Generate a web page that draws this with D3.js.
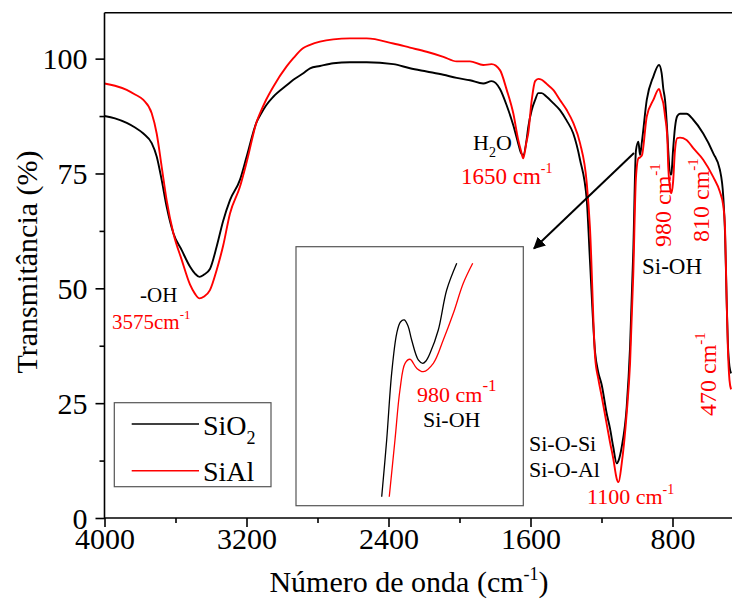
<!DOCTYPE html>
<html><head><meta charset="utf-8">
<script src="https://cdn.jsdelivr.net/npm/d3@7"></script>
<style>
html,body{margin:0;padding:0;background:#fff;}
svg{display:block;font-family:"Liberation Serif","Times New Roman",serif;}
</style></head>
<body>
<svg id="c" width="732" height="604"></svg>
<script>
// ---------- data ----------
const wavenumber = [4000,3941,3875,3828,3781,3734,3706,3678,3650,3612,3565,3518,3490,3465,3439,3406,3368,3332,3293,3237,3199,3143,3124,3090,3049,2974,2936,2880,2842,2786,2711,2617,2523,2373,2279,2185,2091,2016,1941,1866,1819,1772,1734,1697,1669,1654,1641,1622,1613,1593,1574,1556,1537,1509,1472,1434,1396,1359,1321,1283,1265,1236,1218,1199,1171,1152,1134,1114,1104,1086,1058,1039,1021,1006,992,983,972,945,908,876,861,852,842,829,824,810,806,797,786,773,758,721,683,627,570,533,514,504,495,488,479,470];
const sio2 = [87.5,87.0,86.0,85.0,83.7,81.6,78.7,73.6,67.8,62.0,58.3,54.7,53.2,52.5,53.0,54.2,59.1,64.6,69.2,73.6,78.7,86.2,87.6,89.8,91.7,94.2,95.4,96.8,97.9,98.4,99.0,99.2,99.2,98.8,97.9,97.2,96.5,95.8,95.3,94.6,95.1,93.4,89.8,85.5,81.5,79.5,79.0,82.3,85.0,88.8,91.0,92.5,92.5,91.7,90.3,88.8,86.5,83.7,78.0,69.2,56.0,36.0,31.7,29.0,22.8,19.5,15.5,11.9,12.5,15.5,24.2,37.3,58.0,80.0,81.9,79.0,82.0,91.0,96.1,98.6,96.8,93.5,91.0,83.7,80.0,74.7,75.0,80.0,85.0,87.5,88.0,88.0,86.7,83.7,79.4,75.8,70.0,62.0,47.5,38.0,33.0,31.5];
const sial = [94.6,94.1,93.2,92.2,91.0,88.1,83.7,76.5,69.2,62.0,56.2,50.8,48.8,47.8,48.2,49.6,54.0,59.2,66.3,72.1,77.5,86.2,88.1,91.0,93.9,98.3,100.1,102.3,103.0,103.7,104.2,104.4,104.4,103.3,102.4,101.5,100.4,99.4,99.4,98.6,98.8,97.5,93.2,88.1,82.3,80.0,78.3,82.0,83.7,91.0,95.1,95.6,95.4,94.5,93.2,91.0,88.8,86.0,81.6,72.9,63.2,35.0,30.3,26.5,20.5,16.5,13.0,8.5,7.8,11.9,22.8,33.7,53.0,74.0,78.3,78.5,79.0,87.4,91.0,93.4,91.5,90.3,87.5,82.5,76.5,71.0,70.7,73.0,80.1,82.7,82.8,82.3,80.5,78.0,74.2,71.0,68.0,63.0,47.5,37.0,30.0,28.0];
const seriesNames = ["SiO\u2082","SiAl"];
const xTicks = [4000,3200,2400,1600,800];
const xMinorTicks = [3600,2800,2000,1200,400];
const yTicks = [0,25,50,75,100];
const yMinorTicks = [12.5,37.5,62.5,87.5];
// inset (magnified 980 cm-1 region)
const insetWnSiO2 = [1017.3,1012.5,1007.7,1002.8,999.2,995.5,991.9,988.4,982.0,977.7,974.6,970.7,962.7,954.6,944.9];
const insetTSiO2  = [60.96,67.53,75.25,79.89,81.2,81.43,80.73,79.11,76.8,76.41,76.68,77.57,80.27,84.9,88.0];
const insetWnSiAl = [1010.0,1004.5,999.7,994.8,990.0,983.5,977.2,967.5,957.9,948.2,938.6,929.5];
const insetTSiAl  = [60.96,67.53,73.32,76.41,76.88,75.83,75.44,76.41,79.11,82.2,85.68,88.0];

// ---------- layout ----------
const svg = d3.select("#c");
const L = 104.5, T = 12.7, B = 518;
const x = d3.scaleLinear().domain([4000,400]).range([L, L + 639]);
const y = d3.scaleLinear().domain([0,110]).range([B, T]);
const RED = "#ff0000";

// inset frame
const ix = d3.scaleLinear().domain([1100,880]).range([296,524]);
const iy = d3.scaleLinear().domain([60,90]).range([505,246]);
svg.append("rect").attr("x",296).attr("y",246.7).attr("width",227.3).attr("height",259)
  .attr("fill","none").attr("stroke","#555").attr("stroke-width",1.2);

// main lines
const line = (vals) => d3.line().curve(d3.curveMonotoneX)
  .x((d,i)=>x(wavenumber[i])).y(d=>y(d))(vals);
svg.append("path").attr("d", line(sio2)).attr("fill","none").attr("stroke","#000").attr("stroke-width",1.9);
svg.append("path").attr("d", line(sial)).attr("fill","none").attr("stroke",RED).attr("stroke-width",1.9);

// inset lines
const iline = (xs, ys) => d3.line().curve(d3.curveCatmullRom)
  .x((d,i)=>ix(xs[i])).y(d=>iy(d))(ys);
svg.append("path").attr("d", iline(insetWnSiO2, insetTSiO2)).attr("fill","none").attr("stroke","#000").attr("stroke-width",1.3);
svg.append("path").attr("d", iline(insetWnSiAl, insetTSiAl)).attr("fill","none").attr("stroke",RED).attr("stroke-width",1.3);

// axes
const axisW = 1.6;
const gx = svg.append("g").attr("transform",`translate(0,${B})`)
  .call(d3.axisBottom(x).tickValues(xTicks).tickSize(9).tickPadding(1).tickFormat(d3.format("d")));
const gxm = svg.append("g").attr("transform",`translate(0,${B})`)
  .call(d3.axisBottom(x).tickValues(xMinorTicks).tickSize(5).tickFormat(""));
const gy = svg.append("g").attr("transform",`translate(${L},0)`)
  .call(d3.axisLeft(y).tickValues(yTicks).tickSize(9).tickPadding(8).tickFormat(d3.format("d")));
const gym = svg.append("g").attr("transform",`translate(${L},0)`)
  .call(d3.axisLeft(y).tickValues(yMinorTicks).tickSize(5).tickFormat(""));
[gx,gxm,gy,gym].forEach(g=>{
  g.select(".domain").remove();
  g.selectAll("line").attr("stroke","#000").attr("stroke-width",axisW);
  g.selectAll("text").attr("font-family","Liberation Serif, serif").attr("font-size",30).attr("fill","#000");
});
gy.selectAll("text").attr("dy","0.34em");
svg.append("line").attr("x1",L).attr("x2",732).attr("y1",B).attr("y2",B).attr("stroke","#000").attr("stroke-width",axisW);
svg.append("line").attr("x1",L).attr("x2",732).attr("y1",T).attr("y2",T).attr("stroke","#000").attr("stroke-width",axisW);
svg.append("line").attr("x1",L).attr("x2",L).attr("y1",T).attr("y2",B+0.8).attr("stroke","#000").attr("stroke-width",axisW);

// axis titles
const xt = svg.append("text").attr("x",409).attr("y",592).attr("text-anchor","middle").attr("font-size",30);
xt.append("tspan").text("Número de onda (cm");
xt.append("tspan").attr("font-size",18).attr("dy",-12).text("-1");
xt.append("tspan").attr("dy",12).text(")");
svg.append("text").attr("transform","translate(37,262) rotate(-90)").attr("text-anchor","middle")
  .attr("font-size",30).text("Transmitância (%)");

// annotation helper
function label(px, py, parts, opts={}) {
  const t = svg.append("text").attr("font-size", opts.size || 22).attr("fill", opts.color || "#000");
  if (opts.rotate) t.attr("transform",`translate(${px},${py}) rotate(-90)`);
  else t.attr("x",px).attr("y",py);
  let shift = 0;
  parts.forEach(p=>{
    const s = t.append("tspan").text(p.t);
    if (p.sup) { s.attr("font-size", p.fs || 14).attr("dy", -p.sup - shift); shift = -p.sup; }
    else if (p.sub) { s.attr("font-size", p.fs || 14).attr("dy", p.sub - shift); shift = p.sub; }
    else if (shift !== 0) { s.attr("dy", -shift); shift = 0; }
  });
  return t;
}
label(140, 302, [{t:"-OH"}], {size:21});
label(112, 329, [{t:"3575cm"},{t:"-1",sup:10,fs:13}], {size:21,color:RED});
label(473, 150, [{t:"H"},{t:"2",sub:7,fs:14},{t:"O"}], {size:22});
label(461, 184, [{t:"1650 cm"},{t:"-1",sup:11,fs:14}], {size:23,color:RED});
label(671, 247, [{t:"980 cm"},{t:"-1",sup:11,fs:15}], {size:24,color:RED,rotate:true});
label(709, 242, [{t:"810 cm"},{t:"-1",sup:11,fs:15}], {size:24,color:RED,rotate:true});
label(642, 274, [{t:"Si-OH"}], {size:23});
label(716, 416, [{t:"470 cm"},{t:"-1",sup:11,fs:15}], {size:24,color:RED,rotate:true});
label(529, 451, [{t:"Si-O-Si"}], {size:22});
label(529, 477, [{t:"Si-O-Al"}], {size:22});
label(587, 504, [{t:"1100 cm"},{t:"-1",sup:10,fs:14}], {size:22,color:RED});
label(417, 402, [{t:"980 cm"},{t:"-1",sup:11,fs:17}], {size:22,color:RED});
label(423, 427, [{t:"Si-OH"}], {size:22});

// arrow
const defs = svg.append("defs");
defs.append("marker").attr("id","ah").attr("viewBox","0 0 10 10").attr("refX",9).attr("refY",5)
  .attr("markerWidth",6).attr("markerHeight",6).attr("orient","auto").attr("markerUnits","strokeWidth")
  .append("path").attr("d","M0,0 L10,5 L0,10 z").attr("fill","#000");
svg.append("line").attr("x1",634).attr("y1",153).attr("x2",534).attr("y2",248.5)
  .attr("stroke","#000").attr("stroke-width",2).attr("marker-end","url(#ah)");

// legend
const lg = svg.append("g");
lg.append("rect").attr("x",114.3).attr("y",402.7).attr("width",156.7).attr("height",84)
  .attr("fill","#fff").attr("stroke","#555").attr("stroke-width",1.2);
const legY = [424, 470.7], legC = ["#000", RED];
seriesNames.forEach((n,i)=>{
  lg.append("line").attr("x1",131.7).attr("x2",199).attr("y1",legY[i]).attr("y2",legY[i])
    .attr("stroke",legC[i]).attr("stroke-width",1.6);
});
label(203, 435, [{t:"SiO"},{t:"2",sub:9,fs:18}], {size:28});
label(203, 480.5, [{t:"SiAl"}], {size:28});
</script>
</body></html>
